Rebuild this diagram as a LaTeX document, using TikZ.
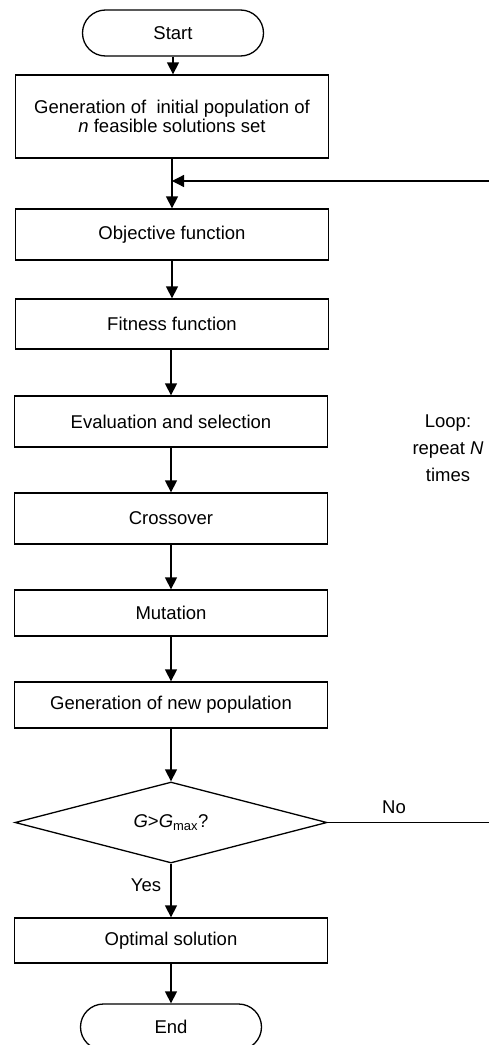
\documentclass[tikz,border=0pt]{standalone}
\usepackage{fontspec}
\setmainfont{Liberation Sans}
\usetikzlibrary{arrows.meta,shapes.geometric}
\begin{document}
\begin{tikzpicture}[x=1bp,y=-1bp,
  every node/.style={font=\fontsize{18.5bp}{19.5bp}\selectfont},
  proc/.style={draw,line width=1.3bp,minimum width=313bp,inner sep=0pt,align=center},
  term/.style={draw,line width=1.3bp,rounded corners=23bp,minimum width=181bp,minimum height=46bp,inner sep=0pt},
  dec/.style={draw,line width=1.3bp,diamond,aspect=3.85,minimum width=312bp,minimum height=81bp,inner sep=0pt},
  arr/.style={line width=1.3bp,-{Triangle[width=12bp,length=12bp]}},
  ln/.style={line width=1.3bp},
  lbl/.style={inner sep=0pt}]
\useasboundingbox (0,0) rectangle (489,1045);
\node[term] (start) at (173,33) {Start};
\node[proc,minimum height=83bp] (gen) at (172,116.5) {Generation of\ \ initial population of\\\textit{n} feasible solutions set};
\node[proc,minimum height=51bp] (obj) at (172,234.5) {Objective function};
\node[proc,minimum height=50bp] (fit) at (172,324) {Fitness function};
\node[proc,minimum height=51bp] (eval) at (171,421.5) {Evaluation and selection};
\node[proc,minimum height=51bp] (cross) at (171,518.5) {Crossover};
\node[proc,minimum height=46bp] (mut) at (171,613) {Mutation};
\node[proc,minimum height=46bp] (newpop) at (171,705) {Generation of new population};
\node[dec] (cond) at (171,822.5) {\textit{G}>\textit{G}\textsubscript{max}?};
\node[proc,minimum height=45bp] (opt) at (171,940.5) {Optimal solution};
\node[term] (end) at (171,1027) {End};
\node[lbl,align=center,font=\fontsize{18.5bp}{27bp}\selectfont] (loop) at (448,448) {Loop:\\repeat \textit{N}\\times};
\node[lbl] (no) at (394,807) {No};
\node[lbl] (yes) at (146,885) {Yes};
\coordinate (noend) at (489,822.5);
\coordinate (loopin) at (489,181);
\draw[arr] (start) -- (gen.north -| start);
\draw[arr] (gen) -- (obj.north -| gen);
\draw[arr] (loopin) -- (loopin -| gen.south);
\draw[arr] (obj) -- (fit);
\draw[arr] (eval.north |- fit.south) -- (eval.north);
\draw[arr] (eval) -- (cross);
\draw[arr] (cross) -- (mut);
\draw[arr] (mut) -- (newpop);
\draw[arr] (newpop) -- (cond);
\draw[ln] (cond.east) -- (noend);
\draw[arr] (cond) -- (opt);
\draw[arr] (opt) -- (end);
\end{tikzpicture}
\end{document}
